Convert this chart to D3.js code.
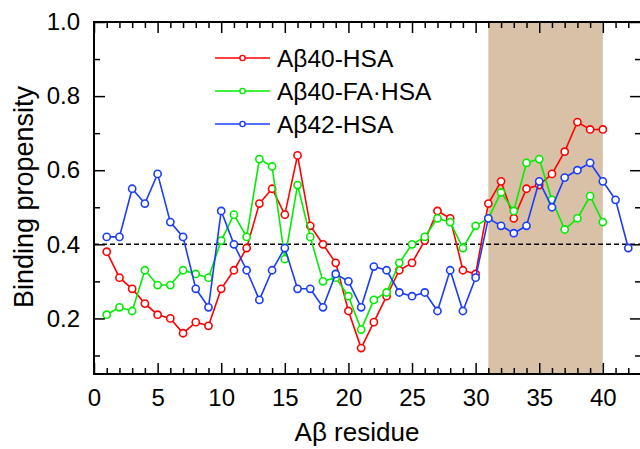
<!DOCTYPE html>
<html>
<head>
<meta charset="utf-8">
<script src="https://cdn.jsdelivr.net/npm/d3@7"></script>
<style>
  body { margin: 0; background: #fff; }
  svg { display: block; font-family: Arial, "Liberation Sans", sans-serif; }
</style>
</head>
<body>
<div class="chart"></div>
<script>

// DATA ------------------------------

const residues40 = d3.range(1, 41);
const residues42 = d3.range(1, 43);

const ab40HSA = [0.38, 0.31, 0.28, 0.24, 0.21, 0.20, 0.16, 0.19, 0.18, 0.28,
                 0.33, 0.39, 0.51, 0.55, 0.48, 0.64, 0.45, 0.40, 0.35, 0.22,
                 0.12, 0.19, 0.26, 0.33, 0.35, 0.41, 0.49, 0.47, 0.33, 0.32,
                 0.51, 0.57, 0.47, 0.55, 0.56, 0.59, 0.65, 0.73, 0.71, 0.71];

const ab40FAHSA = [0.21, 0.23, 0.22, 0.33, 0.29, 0.29, 0.33, 0.32, 0.31, 0.41,
                   0.48, 0.42, 0.63, 0.61, 0.36, 0.56, 0.42, 0.30, 0.31, 0.26,
                   0.17, 0.25, 0.27, 0.35, 0.40, 0.42, 0.47, 0.46, 0.39, 0.45,
                   0.47, 0.54, 0.49, 0.62, 0.63, 0.52, 0.44, 0.47, 0.53, 0.46];

const ab42HSA = [0.42, 0.42, 0.55, 0.51, 0.59, 0.46, 0.42, 0.28, 0.23, 0.49,
                 0.40, 0.33, 0.25, 0.33, 0.39, 0.28, 0.28, 0.23, 0.32, 0.30,
                 0.23, 0.34, 0.33, 0.27, 0.26, 0.27, 0.22, 0.33, 0.22, 0.31,
                 0.47, 0.45, 0.43, 0.45, 0.57, 0.50, 0.58, 0.60, 0.62, 0.57,
                 0.52, 0.39];

const seriesNames = ["Aβ40-HSA", "Aβ40-FA·HSA", "Aβ42-HSA"];
const seriesColors = ["#ff0000", "#00ee00", "#1a3cff"];

const xTicksMajor = [0, 5, 10, 15, 20, 25, 30, 35, 40];
const yTicksMajor = [0.2, 0.4, 0.6, 0.8, 1.0];
const yTicksMinor = [0.1, 0.3, 0.5, 0.7, 0.9];

const shadeRange = [31, 40];
const threshold = 0.4;

const series = [
  {name: seriesNames[0], color: seriesColors[0], values: residues40.map((r, i) => ({x: r, y: ab40HSA[i]}))},
  {name: seriesNames[1], color: seriesColors[1], values: residues40.map((r, i) => ({x: r, y: ab40FAHSA[i]}))},
  {name: seriesNames[2], color: seriesColors[2], values: residues42.map((r, i) => ({x: r, y: ab42HSA[i]}))}
];

// CHART INIT ------------------------------

const margin = {top: 22, right: -1, bottom: 75, left: 94};
const width = 640 - margin.left - margin.right;
const height = 449 - margin.top - margin.bottom;

const svg = d3.select(".chart").append("svg")
  .attr("width", 640)
  .attr("height", 449)
  .append("g")
  .attr("transform", "translate(" + margin.left + "," + margin.top + ")");

const xScale = d3.scaleLinear()
  .domain([0, 43])
  .range([0, width]);

const yScale = d3.scaleLinear()
  .domain([0.05, 1.0])
  .range([height, 0]);

// shaded region
svg.append("rect")
  .attr("x", xScale(shadeRange[0]))
  .attr("y", 0)
  .attr("width", xScale(shadeRange[1]) - xScale(shadeRange[0]))
  .attr("height", height)
  .attr("fill", "#d8c1a6");

// dashed reference line
svg.append("line")
  .attr("x1", 0)
  .attr("x2", width)
  .attr("y1", yScale(threshold))
  .attr("y2", yScale(threshold))
  .attr("stroke", "#000")
  .attr("stroke-width", 1.5)
  .attr("stroke-dasharray", "5,3");

// axes (ticks point inward)
const minorX = d3.range(0, 44).filter(d => d % 5 !== 0);
const fontSize = 24;

function styleAxis(g) {
  g.select(".domain").remove();
  g.selectAll("line").attr("stroke", "#000").attr("stroke-width", 1.5);
  g.selectAll("text").attr("font-size", fontSize).attr("fill", "#000")
    .attr("font-family", "Arial, 'Liberation Sans', sans-serif");
}

svg.append("g")
  .attr("transform", `translate(0, ${height})`)
  .call(d3.axisBottom(xScale).tickValues(xTicksMajor).tickSizeInner(-11).tickSizeOuter(0).tickPadding(15).tickFormat(d3.format("d")))
  .call(styleAxis);

svg.append("g")
  .attr("transform", `translate(0, ${height})`)
  .call(d3.axisBottom(xScale).tickValues(minorX).tickSizeInner(-6).tickSizeOuter(0).tickFormat(""))
  .call(styleAxis);

svg.append("g")
  .call(d3.axisTop(xScale).tickValues(xTicksMajor).tickSizeInner(-11).tickSizeOuter(0).tickFormat(""))
  .call(styleAxis);

svg.append("g")
  .call(d3.axisTop(xScale).tickValues(minorX).tickSizeInner(-6).tickSizeOuter(0).tickFormat(""))
  .call(styleAxis);

svg.append("g")
  .call(d3.axisLeft(yScale).tickValues(yTicksMajor).tickSizeInner(-11).tickSizeOuter(0).tickPadding(14).tickFormat(d3.format(".1f")))
  .call(styleAxis);

svg.append("g")
  .call(d3.axisLeft(yScale).tickValues(yTicksMinor).tickSizeInner(-6).tickSizeOuter(0).tickFormat(""))
  .call(styleAxis);

svg.append("g")
  .attr("transform", `translate(${width}, 0)`)
  .call(d3.axisRight(yScale).tickValues(yTicksMajor).tickSizeInner(-11).tickSizeOuter(0).tickFormat(""))
  .call(styleAxis);

svg.append("g")
  .attr("transform", `translate(${width}, 0)`)
  .call(d3.axisRight(yScale).tickValues(yTicksMinor).tickSizeInner(-6).tickSizeOuter(0).tickFormat(""))
  .call(styleAxis);

// frame
svg.append("rect")
  .attr("width", width)
  .attr("height", height)
  .attr("fill", "none")
  .attr("stroke", "#000")
  .attr("stroke-width", 2);

// lines + markers
const line = d3.line()
  .x(d => xScale(d.x))
  .y(d => yScale(d.y));

series.forEach(s => {
  svg.append("path")
    .datum(s.values)
    .attr("fill", "none")
    .attr("stroke", s.color)
    .attr("stroke-width", 1.6)
    .attr("d", line);

  svg.selectAll(null)
    .data(s.values)
    .enter()
    .append("circle")
    .attr("cx", d => xScale(d.x))
    .attr("cy", d => yScale(d.y))
    .attr("r", 3.6)
    .attr("fill", "#fff")
    .attr("stroke", s.color)
    .attr("stroke-width", 1.6);
});

// legend
const legend = svg.append("g")
  .attr("transform", "translate(" + (215 - margin.left) + "," + (58 - margin.top) + ")");

series.forEach((s, i) => {
  const row = legend.append("g").attr("transform", `translate(0, ${i * 33})`);
  row.append("line")
    .attr("x1", 0).attr("x2", 55)
    .attr("stroke", s.color)
    .attr("stroke-width", 1.6);
  row.append("circle")
    .attr("cx", 27.5)
    .attr("r", 2.6)
    .attr("fill", "#fff")
    .attr("stroke", s.color)
    .attr("stroke-width", 1.4);
  row.append("text")
    .attr("x", 62)
    .attr("dy", "0.35em")
    .attr("font-size", 24.5)
    .text(s.name);
});

// axis titles
svg.append("text")
  .attr("x", (357 - margin.left))
  .attr("y", 441 - margin.top)
  .attr("text-anchor", "middle")
  .attr("font-size", 26)
  .text("Aβ residue");

svg.append("text")
  .attr("transform", "translate(" + (33 - margin.left) + "," + (197 - margin.top) + ") rotate(-90)")
  .attr("text-anchor", "middle")
  .attr("font-size", 27)
  .text("Binding propensity");

</script>
</body>
</html>
